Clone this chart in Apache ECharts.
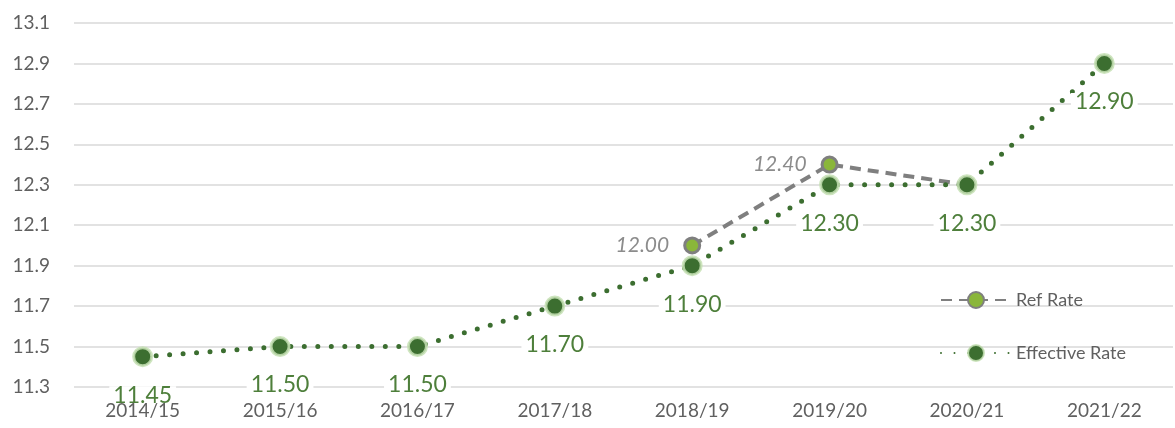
<!DOCTYPE html>
<html><head><meta charset="utf-8">
<script src="https://cdn.jsdelivr.net/npm/echarts@6/dist/echarts.min.js"></script>
<style>html,body{margin:0;padding:0;background:#fff}#c{width:1175px;height:428px}</style>
</head><body><div id="c"></div>
<script>
const categories = ['2014/15','2015/16','2016/17','2017/18','2018/19','2019/20','2020/21','2021/22'];
const refRate = [null,null,null,null,12.00,12.40,12.30,null];
const refLabelShown = [false,false,false,false,true,true,false,false];
const effectiveRate = [11.45,11.50,11.50,11.70,11.90,12.30,12.30,12.90];
const yMin = 11.3, yMax = 13.1, yStep = 0.2;

const FONT = 'Lato';
const chart = echarts.init(document.getElementById('c'), null, {renderer:'canvas'});
chart.setOption({
  animation:false,
  textStyle:{fontFamily:FONT},
  grid:{left:74,right:2,top:23,bottom:41,containLabel:false},
  legend:{
    orient:'vertical', left:935, top:286, itemWidth:70, itemHeight:20, itemGap:35,
    textStyle:{fontFamily:FONT,fontSize:18,color:'#606060'},
    data:['Ref Rate','Effective Rate']
  },
  xAxis:{
    type:'category', data:categories, boundaryGap:true, z:10,
    axisLine:{show:false}, axisTick:{show:false},
    axisLabel:{fontFamily:FONT,fontSize:19,color:'#606060',margin:14}
  },
  yAxis:{
    type:'value', min:yMin, max:yMax, interval:yStep,
    axisLine:{show:false}, axisTick:{show:false},
    splitLine:{lineStyle:{color:'#d9d9d9',width:1.5}},
    axisLabel:{fontFamily:FONT,fontSize:19,color:'#606060',margin:24,
      formatter:v=>v.toFixed(1)}
  },
  series:[
    {
      name:'Ref Rate', type:'line', connectNulls:false,
      data:refRate.map((v,i)=>({value:v,label:{show:refLabelShown[i]}})),
      symbol:'circle', symbolSize:15,
      itemStyle:{color:'#8ab63a',borderColor:'#7f7f7f',borderWidth:3},
      lineStyle:{color:'#7f7f7f',width:4,type:[11,7]},
      label:{position:'left',distance:14,fontFamily:FONT,fontSize:21,fontStyle:'italic',color:'#8c8c8c',
        formatter:p=>p.value.toFixed(2)},
      z:2
    },
    {
      name:'Effective Rate', type:'line',
      data:effectiveRate,
      symbol:'circle', symbolSize:18,
      itemStyle:{color:'#3c6e30',borderColor:'rgba(197,224,180,0.85)',borderWidth:3},
      lineStyle:{color:'#3c6e30',width:5,type:[0,13.5],cap:'round'},
      label:{show:true,position:'bottom',distance:19,fontFamily:FONT,fontSize:23,lineHeight:18,color:'#4e7f3b',
        backgroundColor:'#fff',padding:[0,4],
        formatter:p=>p.value.toFixed(2)},
      z:3
    }
  ]
});
</script></body></html>
